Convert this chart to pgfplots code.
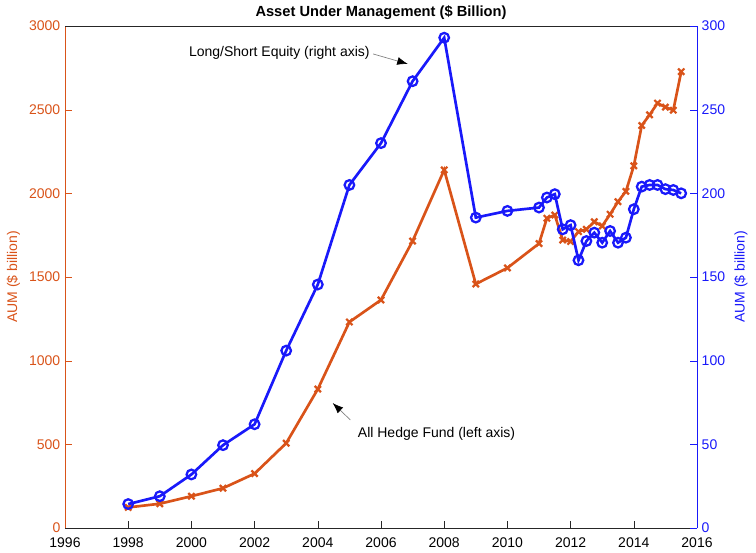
\documentclass[border=0pt]{standalone}
\usepackage{pgfplots}
\pgfplotsset{compat=1.18}
\usepackage{fontspec}
\setmainfont{Liberation Sans}
\usetikzlibrary{arrows.meta}
\definecolor{mred}{RGB}{217,83,25}
\definecolor{mblue}{RGB}{25,25,250}
\definecolor{mgray}{RGB}{38,38,38}
\begin{document}
\begin{tikzpicture}
\pgfplotsset{
  common/.style={
    scale only axis, width=474pt, height=376.5pt,
    xmin=1996, xmax=2016,
    /pgf/number format/assume math mode=true,
    /pgf/number format/1000 sep={},
    tick align=inside,
    major tick length=5pt,
    ticklabel style={font=\fontsize{10.5}{12}\selectfont},
    label style={font=\fontsize{10.5}{12}\selectfont},
  }
}
\begin{axis}[common, name=ax,
  axis y line*=left, axis x line*=bottom,
  ymin=0, ymax=3000, ytick={0,500,...,3000},
  xtick={1996,1998,...,2016},
  x axis line style={draw=mgray, -}, xtick style={draw=mgray},
  x tick label style={text=black, yshift=-4pt},
  y axis line style={draw=mred, -}, ytick style={draw=mred},
  y tick label style={text=mred},
  ylabel={AUM (\$ billion)}, ylabel style={text=mred},
  title={\bfseries Asset Under Management (\$ Billion)},
  title style={font=\fontsize{11}{13}\selectfont, yshift=-5pt},
  clip=false,
]
\addplot[mred, line width=2pt, mark=x, mark size=3.3pt, mark options={line width=1.7pt}] coordinates {
(1998,123)(1999,145)(2000,190)(2001,238)(2002,325)(2003,507)(2004,830)(2005,1231)(2006,1363)(2007,1715)(2008,2140)(2009,1458)(2010,1554)
(2011,1700)(2011.25,1851)(2011.5,1870)(2011.75,1721)(2012,1712)(2012.25,1771)(2012.5,1785)(2012.75,1830)(2013,1805)(2013.25,1875)(2013.5,1950)(2013.75,2012)(2014,2164)(2014.25,2405)(2014.5,2469)(2014.75,2539)(2015,2515)(2015.25,2497)(2015.5,2727)
};
\draw[mgray, line width=0.5pt] (rel axis cs:0,1) -- (rel axis cs:1,1);
\node[anchor=east, font=\fontsize{10.5}{12}\selectfont, inner sep=1pt] at (axis cs:2005.69,2839) {Long/Short Equity (right axis)};
\draw[gray, line width=0.5pt, -{Latex[black,length=8pt,width=6pt]}] (axis cs:2005.75,2833) -- (axis cs:2006.85,2773);
\node[anchor=west, font=\fontsize{10.5}{12}\selectfont, inner sep=1pt] at (axis cs:2005.22,562) {All Hedge Fund (left axis)};
\draw[gray, line width=0.5pt, -{Latex[black,length=8pt,width=6pt]}] (axis cs:2005.03,646) -- (axis cs:2004.47,747);
\end{axis}
\begin{axis}[common,
  axis y line*=right, axis x line=none,
  ymin=0, ymax=300, ytick={0,50,...,300},
  y axis line style={draw=mblue, -}, ytick style={draw=mblue},
  y tick label style={text=mblue},
  ylabel={AUM (\$ billion)}, ylabel style={text=mblue},
  clip=false,
]
\addplot[mblue, line width=2pt, mark=o, mark size=3.6pt, mark options={line width=1.7pt}] coordinates {
(1998,14.3)(1999,19)(2000,32)(2001,49.5)(2002,62)(2003,106)(2004,145.5)(2005,205)(2006,230)(2007,267)(2008,293)(2009,185.5)(2010,189.5)
(2011,191.5)(2011.25,197.5)(2011.5,199.5)(2011.75,178.5)(2012,181)(2012.25,160)(2012.5,171.5)(2012.75,176.5)(2013,170.5)(2013.25,177.5)(2013.5,170.5)(2013.75,173.5)(2014,190.5)(2014.25,204)(2014.5,205)(2014.75,205)(2015,202.5)(2015.25,202)(2015.5,200)
};
\end{axis}
\useasboundingbox ([xshift=-48.75pt,yshift=-16.5pt]ax.south west) rectangle ([xshift=44.25pt,yshift=19.5pt]ax.north east);
\end{tikzpicture}
\end{document}
